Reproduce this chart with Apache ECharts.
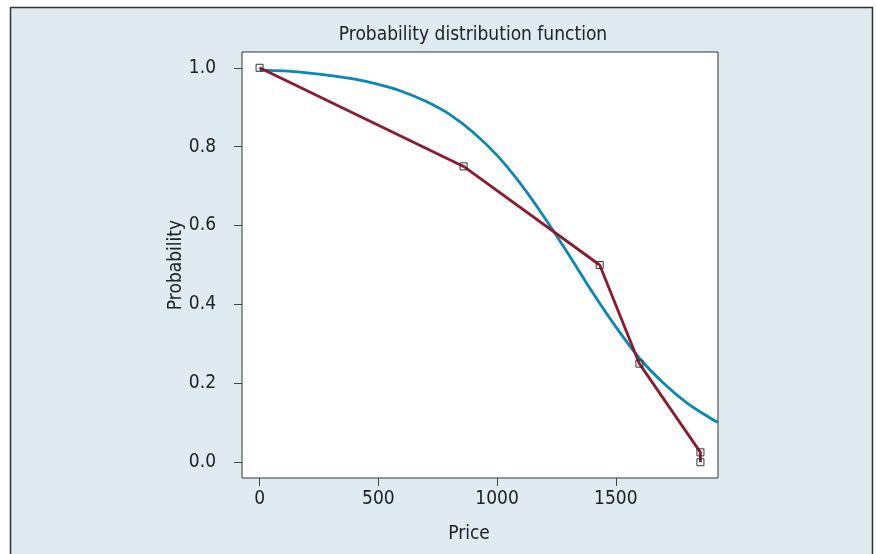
<!DOCTYPE html>
<html>
<head>
<meta charset="utf-8">
<script src="https://cdn.jsdelivr.net/npm/echarts@6/dist/echarts.min.js"></script>
<style>
  html, body { margin: 0; padding: 0; background: #fff; }
  #chart { width: 876px; height: 554px; }
</style>
</head>
<body>
<div id="chart"></div>
<script>
// observed price points (red, step estimate)
var pricePoints = [0, 859, 1432, 1599, 1856, 1856];
var probPoints = [1.0, 0.75, 0.5, 0.25, 0.025, 0.0];

// fitted distribution (blue curve)
var curvePrice = [0, 100, 200, 300, 400, 500, 600, 700, 800, 900, 1000, 1100, 1200,
                  1300, 1400, 1500, 1600, 1700, 1800, 1900, 1930];
var curveProb = [0.994, 0.992, 0.987, 0.980, 0.971, 0.958, 0.940, 0.915, 0.882, 0.836,
                 0.778, 0.705, 0.620, 0.528, 0.432, 0.343, 0.263, 0.201, 0.150, 0.111, 0.101];

var xTicks = [0, 500, 1000, 1500];
var yTicks = [0, 0.2, 0.4, 0.6, 0.8, 1.0];

var font = '"DejaVu Sans Condensed", "Liberation Sans Narrow", "Roboto Condensed", sans-serif';

function pairs(xs, ys) {
    var res = [];
    for (var i = 0; i < xs.length; i++) {
        res.push([xs[i], ys[i]]);
    }
    return res;
}

var myChart = echarts.init(document.getElementById('chart'));

var option = {
    animation: false,
    backgroundColor: '#fff',
    graphic: [{
        type: 'rect',
        z: -10,
        shape: { x: 10.5, y: 7.5, width: 862, height: 560 },
        style: { fill: '#dfeaf1', stroke: '#333', lineWidth: 1.5 }
    }],
    title: {
        text: 'Probability distribution function',
        left: 468,
        top: 21,
        textAlign: 'center',
        textStyle: { fontFamily: font, fontSize: 19, fontWeight: 'normal', color: '#222' }
    },
    grid: {
        left: 242,
        right: 158,
        top: 52,
        bottom: 76,
        show: true,
        backgroundColor: '#fff',
        borderColor: '#333',
        borderWidth: 1
    },
    xAxis: {
        type: 'value',
        min: -74,
        max: 1930,
        name: 'Price',
        nameLocation: 'middle',
        nameGap: 47,
        nameMoveOverlap: false,
        nameTextStyle: { fontFamily: font, fontSize: 19, color: '#222', padding: [0, 22, 0, 0] },
        axisLine: { show: false, onZero: false },
        splitLine: { show: false },
        axisTick: { show: true, length: 8, customValues: xTicks, lineStyle: { color: '#444' } },
        axisLabel: {
            customValues: xTicks, fontFamily: font, fontSize: 19, color: '#222', margin: 12,
            formatter: function (v) { return String(v); }
        }
    },
    yAxis: {
        type: 'value',
        min: -0.04,
        max: 1.04,
        name: 'Probability',
        nameLocation: 'middle',
        nameGap: 56,
        nameMoveOverlap: false,
        nameTextStyle: { fontFamily: font, fontSize: 19, color: '#222' },
        axisLine: { show: false, onZero: false },
        splitLine: { show: false },
        axisTick: { show: true, length: 8, customValues: yTicks, lineStyle: { color: '#444' } },
        axisLabel: {
            customValues: yTicks,
            fontFamily: font, fontSize: 19, color: '#222', margin: 26,
            formatter: function (v) { return v.toFixed(1); }
        }
    },
    series: [
        {
            name: 'fit',
            type: 'line',
            data: pairs(curvePrice, curveProb),
            smooth: 0.3,
            showSymbol: false,
            lineStyle: { color: '#0a87b2', width: 2.8 },
            z: 2
        },
        {
            name: 'observed',
            type: 'line',
            data: pairs(pricePoints, probPoints),
            symbol: 'rect',
            symbolSize: 7,
            lineStyle: { color: '#8c1b2c', width: 2.8 },
            itemStyle: { color: 'rgba(255,255,255,0)', borderColor: '#333', borderWidth: 1 },
            z: 3
        }
    ]
};

myChart.setOption(option);
window.addEventListener('resize', function () {
    myChart.resize();
});
</script>
</body>
</html>
